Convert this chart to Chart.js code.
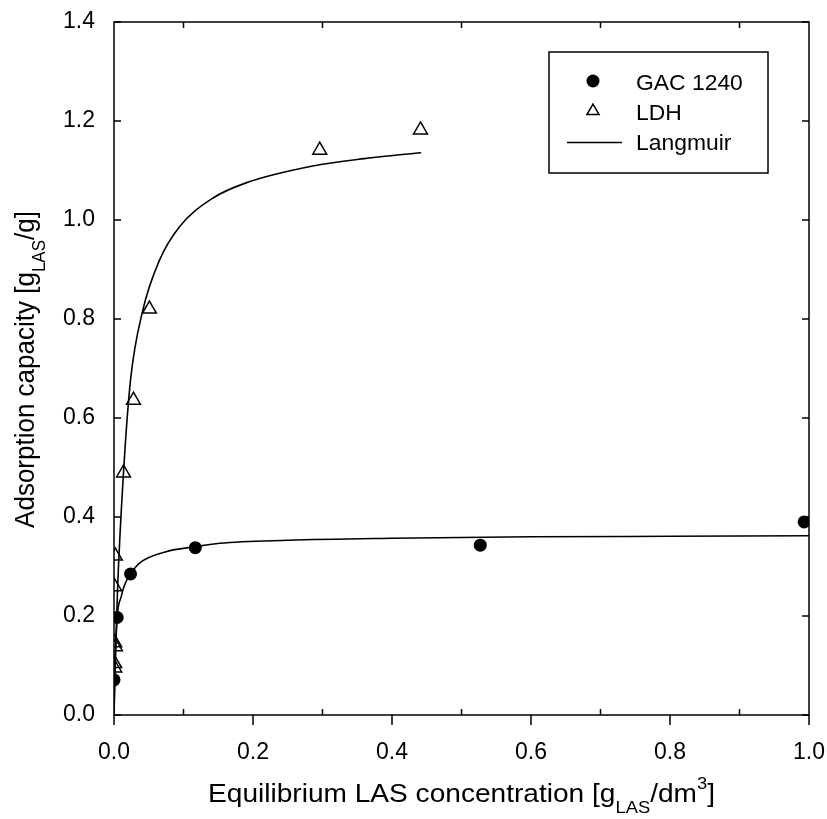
<!DOCTYPE html>
<html>
<head>
<meta charset="utf-8">
<script src="https://cdn.jsdelivr.net/npm/chart.js@4"></script>
<style>
  html, body { margin: 0; padding: 0; background: #fff; }
  #grafico { display: block; }
</style>
</head>
<body>
<canvas id="grafico" width="827" height="819"></canvas>
<script>
// Datos
const gacC = [0.0, 0.0046, 0.0238, 0.117, 0.527, 0.993];
const gacQ = [0.071, 0.197, 0.285, 0.338, 0.343, 0.390];

const ldhC = [0.001, 0.001, 0.002, 0.001, 0.001, 0.002, 0.0137, 0.028, 0.051, 0.296, 0.441];
const ldhQ = [0.095, 0.104, 0.138, 0.146, 0.259, 0.321, 0.489, 0.636, 0.820, 1.141, 1.182];

// Curvas Langmuir (puntos leídos sobre la línea)
const langGacC = [0, 0.0008, 0.0046, 0.0104, 0.015, 0.0238, 0.0367, 0.075, 0.117, 0.152, 0.25, 0.4, 0.6, 0.8, 1.0];
const langGacQ = [0, 0.07, 0.197, 0.239, 0.262, 0.285, 0.307, 0.330, 0.340, 0.347, 0.353, 0.357, 0.360, 0.361, 0.362];

const langLdhC = [0, 0.002, 0.005, 0.0137, 0.0238, 0.0415, 0.0655, 0.094, 0.142, 0.19, 0.286, 0.36, 0.442];
const langLdhQ = [0, 0.11, 0.25, 0.49, 0.677, 0.818, 0.919, 0.986, 1.044, 1.075, 1.109, 1.124, 1.136];

// Marcas de los ejes
const xTicks = [0, 0.2, 0.4, 0.6, 0.8, 1.0];
const xMinor = [0.1, 0.3, 0.5, 0.7, 0.9];
const yTicks = [0, 0.2, 0.4, 0.6, 0.8, 1.0, 1.2, 1.4];

const leyenda = ["GAC 1240", "LDH", "Langmuir"];

const fuente = "'Liberation Sans', Arial, sans-serif";
const toXY = (xs, ys) => xs.map((v, i) => ({ x: v, y: ys[i] }));

// Marco y marcas de los ejes
const marco = {
    id: "marco",
    beforeDatasetsDraw(chart) {
        const { ctx, chartArea: a, scales: { x, y } } = chart;
        ctx.save();
        ctx.strokeStyle = "#000";
        ctx.lineWidth = 1.5;
        ctx.strokeRect(a.left, a.top, a.right - a.left, a.bottom - a.top);
        ctx.beginPath();
        xTicks.forEach((v) => {
            const px = x.getPixelForValue(v);
            ctx.moveTo(px, a.bottom);
            ctx.lineTo(px, a.bottom + 10);
        });
        xMinor.forEach((v) => {
            const px = x.getPixelForValue(v);
            ctx.moveTo(px, a.bottom);
            ctx.lineTo(px, a.bottom - 6);
            ctx.moveTo(px, a.top);
            ctx.lineTo(px, a.top + 6);
        });
        yTicks.forEach((v) => {
            const py = y.getPixelForValue(v);
            ctx.moveTo(a.left, py);
            ctx.lineTo(a.left + 7, py);
            ctx.moveTo(a.right, py);
            ctx.lineTo(a.right - 7, py);
        });
        ctx.stroke();
        ctx.restore();
    },
};

// Texto con subíndices / superíndices
function textoRico(ctx, partes) {
    let ancho = 0;
    partes.forEach((p) => {
        ctx.font = p.size + "px " + fuente;
        ancho += ctx.measureText(p.t).width;
    });
    let cx = -ancho / 2;
    partes.forEach((p) => {
        ctx.font = p.size + "px " + fuente;
        ctx.fillText(p.t, cx, p.dy);
        cx += ctx.measureText(p.t).width;
    });
}

const titulos = {
    id: "titulos",
    afterDraw(chart) {
        const { ctx, chartArea: a } = chart;
        ctx.save();
        ctx.fillStyle = "#000";
        ctx.textBaseline = "alphabetic";

        // Eje X
        ctx.save();
        ctx.translate((a.left + a.right) / 2, a.bottom + 87);
        ctx.scale(1.08, 1);
        textoRico(ctx, [
            { t: "Equilibrium LAS concentration [g", size: 26, dy: 0 },
            { t: "LAS", size: 17, dy: 11 },
            { t: "/dm", size: 26, dy: 0 },
            { t: "3", size: 17, dy: -13 },
            { t: "]", size: 26, dy: 0 },
        ]);
        ctx.restore();

        // Eje Y
        ctx.save();
        ctx.translate(33.5, (a.top + a.bottom) / 2 + 1);
        ctx.rotate(-Math.PI / 2);
        ctx.scale(1, 1.08);
        textoRico(ctx, [
            { t: "Adsorption capacity [g", size: 26, dy: 0 },
            { t: "LAS", size: 17, dy: 11 },
            { t: "/g]", size: 26, dy: 0 },
        ]);
        ctx.restore();

        // Leyenda
        const lx = a.right - 260, ly = a.top + 30;
        ctx.strokeStyle = "#000";
        ctx.lineWidth = 1.5;
        ctx.strokeRect(lx, ly, 219, 121);
        ctx.beginPath();
        ctx.arc(lx + 44, ly + 29, 6.5, 0, Math.PI * 2);
        ctx.fill();
        ctx.save();
        ctx.fillStyle = "rgba(0,0,0,0)";
        Chart.helpers.drawPoint(ctx, { pointStyle: "triangle", radius: 7, borderWidth: 1.5, rotation: 0 }, lx + 44, ly + 59);
        ctx.restore();
        ctx.beginPath();
        ctx.moveTo(lx + 18, ly + 90.5);
        ctx.lineTo(lx + 73, ly + 90.5);
        ctx.stroke();
        ctx.font = "22px " + fuente;
        leyenda.forEach((t, i) => {
            ctx.save();
            ctx.translate(lx + 87, ly + 38 + i * 30.2);
            ctx.scale(1.04, 1);
            ctx.fillText(t, 0, 0);
            ctx.restore();
        });
        ctx.restore();
    },
};

const ctxGrafico = document.getElementById("grafico").getContext("2d");

const config = {
    type: "scatter",
    data: {
        datasets: [
            {
                label: leyenda[0],
                data: toXY(gacC, gacQ),
                pointStyle: "circle",
                pointRadius: 6.5,
                backgroundColor: "#000",
                borderColor: "#000",
                borderWidth: 0,
                order: 1,
            },
            {
                label: leyenda[1],
                data: toXY(ldhC, ldhQ),
                pointStyle: "triangle",
                pointRadius: 8,
                backgroundColor: "rgba(0,0,0,0)",
                borderColor: "#000",
                borderWidth: 1.5,
                order: 1,
            },
            {
                type: "line",
                label: leyenda[2],
                data: toXY(langGacC, langGacQ),
                borderColor: "#000",
                borderWidth: 1.6,
                pointRadius: 0,
                cubicInterpolationMode: "monotone",
                fill: false,
                order: 2,
            },
            {
                type: "line",
                label: leyenda[2],
                data: toXY(langLdhC, langLdhQ),
                borderColor: "#000",
                borderWidth: 1.6,
                pointRadius: 0,
                cubicInterpolationMode: "monotone",
                fill: false,
                order: 2,
            },
        ],
    },
    options: {
        responsive: false,
        animation: false,
        layout: { padding: { left: 0, top: 22, right: 18, bottom: 0 } },
        plugins: { legend: { display: false }, tooltip: { enabled: false } },
        scales: {
            x: {
                type: "linear",
                min: 0,
                max: 1,
                afterBuildTicks: (s) => { s.ticks = xTicks.map((v) => ({ value: v })); },
                afterFit: (s) => {
                    s.height = 104;
                    s.paddingLeft = 0;
                    s.paddingRight = 0;
                },
                grid: { display: false },
                border: { display: false },
                ticks: {
                    color: "#000",
                    font: { family: fuente, size: 23 },
                    padding: 16,
                    maxRotation: 0,
                    autoSkip: false,
                    callback: (v) => Number(v).toFixed(1),
                },
            },
            y: {
                type: "linear",
                min: 0,
                max: 1.4,
                afterBuildTicks: (s) => { s.ticks = yTicks.map((v) => ({ value: v })); },
                afterFit: (s) => {
                    s.width = 114;
                    s.paddingTop = 0;
                    s.paddingBottom = 0;
                },
                grid: { display: false },
                border: { display: false },
                ticks: {
                    color: "#000",
                    font: { family: fuente, size: 23 },
                    padding: 11,
                    autoSkip: false,
                    callback: (v) => Number(v).toFixed(1),
                },
            },
        },
    },
    plugins: [marco, titulos],
};

new Chart(ctxGrafico, config);
</script>
</body>
</html>
